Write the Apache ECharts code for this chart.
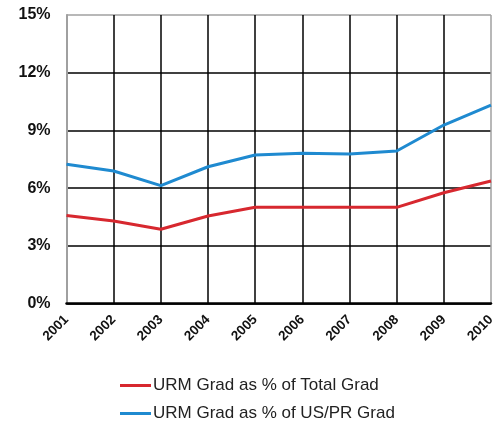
<!DOCTYPE html>
<html><head><meta charset="utf-8">
<script src="https://cdn.jsdelivr.net/npm/echarts@6/dist/echarts.min.js"></script>
<style>html,body{margin:0;padding:0;background:#fff}#c{width:503px;height:421px}</style>
</head><body><div id="c"></div>
<script>
var years = ['2001','2002','2003','2004','2005','2006','2007','2008','2009','2010'];
var totalGrad = [4.57, 4.29, 3.86, 4.55, 5.0, 5.0, 5.0, 5.0, 5.76, 6.37];
var usprGrad = [7.24, 6.89, 6.13, 7.11, 7.72, 7.81, 7.77, 7.93, 9.28, 10.32];
var yTicks = [0, 3, 6, 9, 12, 15];
var seriesNames = ['URM Grad as % of Total Grad', 'URM Grad as % of US/PR Grad'];

var chart = echarts.init(document.getElementById('c'), null, {renderer:'canvas'});
var xSplitColors = years.map(function(_, i){ return (i === 0 || i === years.length - 1) ? '#a0a0a0' : '#000'; });
var ySplitColors = yTicks.map(function(_, i){ return i === yTicks.length - 1 ? '#a0a0a0' : '#000'; });
function legendFor(name, top) {
  return {
    orient: 'horizontal', left: 120, top: top, itemWidth: 31, itemHeight: 3,
    icon: 'rect', padding: 0,
    textStyle: {fontFamily: 'Liberation Sans, Arial', fontSize: 17, color: '#222', padding: [0,0,0,-3]},
    data: [name]
  };
}
chart.setOption({
  animation: false,
  grid: {left: 66.5, right: 12, top: 15, bottom: 117.5},
  xAxis: {
    type: 'category', data: years, boundaryGap: false,
    axisLine: {show: true, lineStyle: {color: '#000', width: 2.5}},
    axisTick: {show: false},
    axisLabel: {rotate: 45, margin: 14, color: '#111', fontFamily: 'Liberation Sans, Arial', fontWeight: 'bold', fontSize: 13.5, interval: 0},
    splitLine: {show: true, lineStyle: {color: xSplitColors, width: 1.5}}
  },
  yAxis: {
    type: 'value', min: yTicks[0], max: yTicks[yTicks.length-1], interval: 3,
    axisLine: {show: true, lineStyle: {color: '#a0a0a0', width: 2}},
    axisTick: {show: false},
    axisLabel: {formatter: '{value}%', margin: 16, color: '#111', fontFamily: 'Liberation Sans, Arial', fontWeight: 'bold', fontSize: 16},
    splitLine: {show: true, lineStyle: {color: ySplitColors, width: 1.5}}
  },
  legend: [legendFor(seriesNames[0], 377), legendFor(seriesNames[1], 405)],
  series: [
    {name: seriesNames[0], type: 'line', data: totalGrad, symbol: 'none', lineStyle: {color: '#d7282f', width: 3}, itemStyle: {color: '#d7282f'}},
    {name: seriesNames[1], type: 'line', data: usprGrad, symbol: 'none', lineStyle: {color: '#1f8ad0', width: 3}, itemStyle: {color: '#1f8ad0'}}
  ]
});
</script></body></html>
